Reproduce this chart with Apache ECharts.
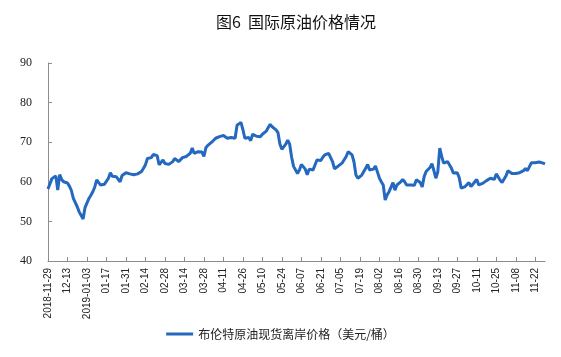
<!DOCTYPE html>
<html>
<head>
<meta charset="utf-8">
<script src="https://cdn.jsdelivr.net/npm/echarts@6/dist/echarts.min.js"></script>
<style>
html,body{margin:0;padding:0;background:#fff;}
#chart{width:561px;height:357px;}
</style>
</head>
<body>
<div id="chart"></div>
<script>
// Title and legend text
const chartTitle = '图6  国际原油价格情况';
const seriesName = '布伦特原油现货离岸价格（美元/桶）';

// Y axis ticks
const yTicks = [40, 50, 60, 70, 80, 90];

// Trading-day calendar (categories): first day, count and non-trading days
const startDate = '2018-11-29';
const dayCount = 256;
const holidays = ['2018-12-24', '2018-12-25', '2018-12-26', '2018-12-31', '2019-01-01', '2019-04-19'];

// Brent spot prices, USD/bbl
const brentPrices = [
  58.2, 57.7, 60.8, 61.3, 61.5, 57.9, 61.8, 60.6, 60.0, 60.1,
  59.7, 58.9, 57.8, 55.8, 55.6, 53.7, 52.4, 51.9, 50.6, 53.5,
  53.2, 55.8, 56.6, 57.5, 58.7, 60.5, 59.8, 59.2, 59.0, 59.4,
  59.9, 60.9, 62.3, 61.4, 61.3, 61.3, 61.0, 60.0, 61.6, 62.0,
  62.3, 61.9, 62.0, 62.3, 61.8, 61.6, 62.0, 62.2, 62.6, 63.4,
  64.3, 65.9, 66.3, 66.1, 66.9, 67.0, 66.6, 64.3, 64.7, 65.5,
  64.6, 64.7, 64.4, 64.9, 65.1, 65.9, 65.6, 65.1, 65.6, 66.1,
  66.2, 66.4, 66.8, 67.2, 68.5, 67.2, 66.8, 67.6, 67.6, 67.5,
  66.4, 68.6, 69.2, 69.7, 70.0, 70.2, 71.0, 71.3, 71.4, 71.5,
  71.7, 71.5, 71.0, 70.9, 71.2, 70.8, 71.0, 74.3, 73.8, 75.0,
  73.2, 71.0, 71.4, 71.2, 70.4, 72.0, 71.9, 71.5, 71.0, 71.4,
  72.0, 72.4, 72.8, 73.7, 74.5, 73.9, 73.5, 73.1, 72.4, 69.5,
  68.2, 68.0, 69.5, 70.5, 69.5, 66.2, 63.9, 63.4, 62.1, 63.0,
  64.4, 64.3, 63.2, 61.8, 63.2, 62.8, 63.0, 63.2, 65.5, 65.7,
  65.4, 66.2, 66.8, 67.0, 67.2, 67.6, 65.1, 63.3, 63.6, 64.0,
  64.3, 64.8, 64.3, 66.4, 67.6, 67.2, 66.8, 65.0, 61.7, 60.9,
  61.3, 61.7, 62.1, 63.4, 64.4, 63.0, 62.6, 63.2, 64.0, 62.5,
  61.0, 60.0, 59.2, 55.4, 56.7, 57.5, 57.3, 59.8, 57.9, 59.2,
  59.2, 60.0, 60.6, 60.0, 59.2, 58.8, 59.2, 58.8, 59.1, 60.5,
  60.9, 59.8, 58.7, 61.3, 62.6, 62.5, 63.6, 64.6, 62.8, 60.9,
  62.5, 68.5, 66.4, 64.7, 64.5, 65.1, 64.7, 63.4, 62.2, 62.3,
  62.3, 61.0, 58.4, 57.9, 58.8, 59.2, 59.8, 58.8, 59.4, 60.0,
  60.6, 59.2, 59.4, 59.6, 59.8, 60.3, 59.8, 60.9, 61.3, 60.6,
  62.0, 61.2, 60.4, 59.8, 59.6, 61.5, 62.8, 62.6, 62.1, 62.6,
  62.1, 62.6, 62.3, 62.3, 62.8, 63.4, 62.8, 63.3, 64.8, 65.1,
  64.8, 64.8, 65.0, 65.1, 64.7, 64.5
];

function buildDates() {
  const out = [];
  const d = new Date(startDate + 'T00:00:00Z');
  while (out.length < dayCount) {
    const s = d.toISOString().slice(0, 10);
    const wd = d.getUTCDay();
    if (wd !== 0 && wd !== 6 && holidays.indexOf(s) < 0) out.push(s);
    d.setUTCDate(d.getUTCDate() + 1);
  }
  return out;
}
const dates = buildDates();

const chart = echarts.init(document.getElementById('chart'), null, {renderer: 'canvas'});
const cjk = '"Noto Sans CJK SC", "Noto Sans", sans-serif';
chart.setOption({
  animation: false,
  backgroundColor: '#ffffff',
  title: {
    text: chartTitle,
    left: 211,
    top: 9,
    textStyle: {fontFamily: cjk, fontSize: 16, fontWeight: 'normal', color: '#111'}
  },
  legend: {
    bottom: 12,
    left: 'center',
    itemWidth: 27,
    itemHeight: 3,
    itemGap: 10,
    icon: 'rect',
    textStyle: {fontFamily: cjk, fontSize: 12, color: '#222'},
    data: [seriesName]
  },
  grid: {left: 48, right: 16, top: 63, bottom: 96, containLabel: false},
  xAxis: {
    type: 'category',
    data: dates,
    boundaryGap: false,
    axisLine: {lineStyle: {color: '#8c8c8c', width: 1}},
    axisTick: {inside: true, interval: 9, length: 4, lineStyle: {color: '#8c8c8c'}},
    axisLabel: {
      interval: 9,
      rotate: 90,
      margin: 7,
      fontFamily: '"Liberation Sans", Arial, sans-serif',
      fontSize: 10,
      color: '#222',
      formatter: function (value, index) {
        if (index === 0) return value;
        const prev = dates[index - 10];
        if (prev && prev.slice(0, 4) !== value.slice(0, 4)) return value;
        return value.slice(5);
      }
    },
    splitLine: {show: false}
  },
  yAxis: {
    type: 'value',
    min: yTicks[0],
    max: yTicks[yTicks.length - 1],
    interval: 10,
    axisLine: {show: true, lineStyle: {color: '#8c8c8c', width: 1}},
    axisTick: {show: true, inside: true, length: 4, lineStyle: {color: '#8c8c8c'}},
    axisLabel: {
      margin: 16,
      fontFamily: '"Liberation Serif", "Times New Roman", serif',
      fontSize: 12,
      color: '#222'
    },
    splitLine: {show: false}
  },
  series: [{
    name: seriesName,
    type: 'line',
    data: brentPrices,
    symbol: 'none',
    lineStyle: {color: '#2468bf', width: 3},
    itemStyle: {color: '#2468bf'}
  }]
});
</script>
</body>
</html>
